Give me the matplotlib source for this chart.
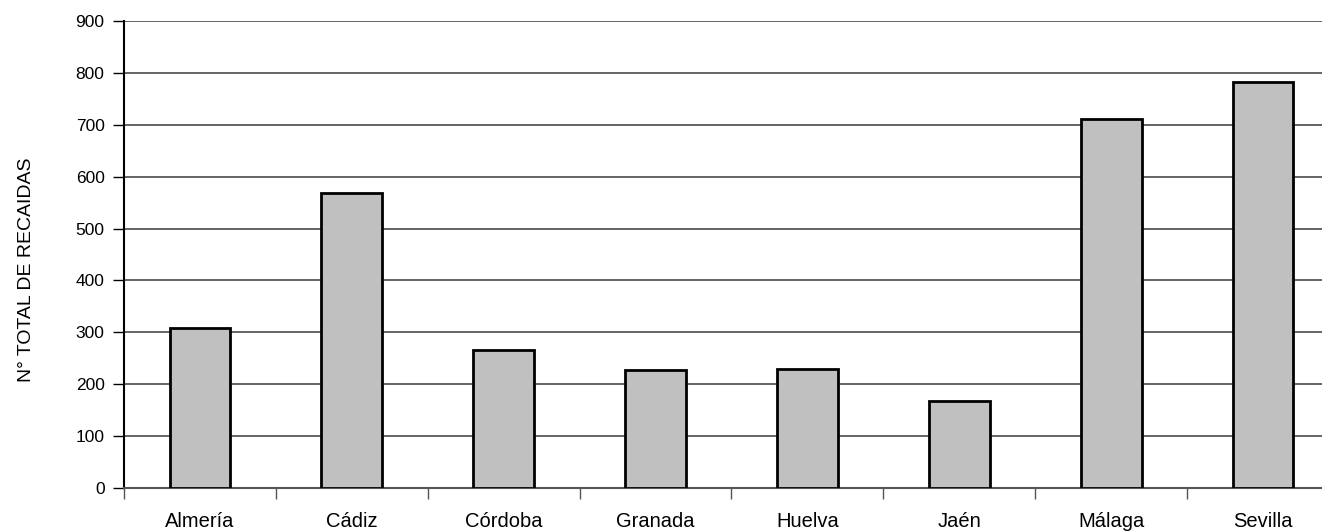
import matplotlib
matplotlib.use("Agg")
import matplotlib.pyplot as plt
import numpy as np

provincias = ["Almería", "Cádiz", "Córdoba", "Granada", "Huelva", "Jaén", "Málaga", "Sevilla"]
recaidas = [308, 568, 266, 227, 229, 168, 711, 782]
y_ticks = [0, 100, 200, 300, 400, 500, 600, 700, 800, 900]

plt.rcParams['font.family'] = ['Liberation Sans', 'DejaVu Sans']

fig = plt.figure(figsize=(13.22, 5.32), dpi=100)
# el gráfico original está recortado por la derecha
ax = fig.add_axes([124 / 1322, 44 / 532, 1215 / 1322, 467 / 532])

x = np.arange(len(provincias))
ax.bar(x, recaidas, width=0.40, color='#c0c0c0', edgecolor='black', linewidth=2, zorder=3)

ax.set_xlim(-0.5, len(provincias) - 0.5)
ax.set_ylim(0, 900)
ax.set_yticks(y_ticks)
ax.set_yticklabels([str(v) for v in y_ticks], fontsize=12.5)
ax.yaxis.grid(True, color='#4a4a4a', linewidth=1.2, zorder=0)

ax.set_xticks(x)
ax.set_xticklabels(provincias, fontsize=14.5)
ax.set_xticks(np.arange(len(provincias) + 1) - 0.5, minor=True)
ax.tick_params(axis='x', which='major', length=0, pad=17)
ax.tick_params(axis='x', which='minor', length=8, width=1, direction='out', color='#555555')
ax.tick_params(axis='y', length=8, width=1, direction='out', pad=6)

for s in ['top', 'right']:
    ax.spines[s].set_visible(False)
ax.spines['left'].set_linewidth(1.5)
ax.spines['bottom'].set_linewidth(1.5)
ax.spines['bottom'].set_color('#555555')

ax.set_ylabel("N° TOTAL DE RECAIDAS", fontsize=14)
ax.yaxis.set_label_coords(-0.0733, 0.467)

fig.savefig("out.png", dpi=100)
